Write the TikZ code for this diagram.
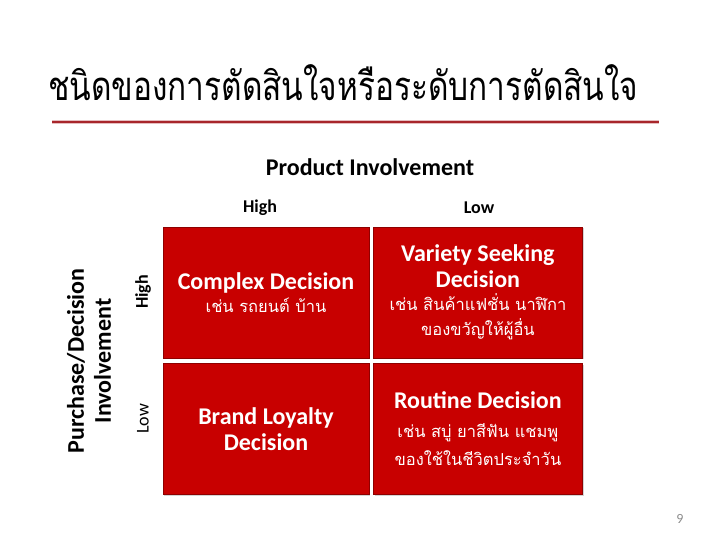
\documentclass[tikz,border=0pt]{standalone}
\usepackage{fontspec}
\setmainfont{Carlito}
\newfontfamily\thaifont[Script=Thai]{Loma}
\usepackage{tikz}
\usetikzlibrary{positioning, shadows}
\definecolor{quadred}{HTML}{C80000}
\definecolor{quadedge}{HTML}{8E0000}
\definecolor{rulered}{HTML}{A8262B}
\definecolor{numgray}{HTML}{8C8C8C}
\tikzset{
    quad/.style={draw=quadedge, fill=quadred, text=white, align=center, inner sep=2pt,
                 font=\fontsize{17}{26}\selectfont,
                 minimum height=131pt, drop shadow={opacity=0.35, shadow xshift=1.2pt, shadow yshift=-1.2pt}},
    axislbl/.style={font=\fontsize{24}{28}\selectfont\bfseries, align=center},
    lvl/.style={font=\fontsize{18}{20}\selectfont\bfseries},
    lvlthin/.style={font=\fontsize{18}{20}\selectfont}
}
\newcommand{\enline}[1]{{\bfseries\fontsize{24}{26}\selectfont #1}}
\newcommand{\thline}[1]{{\thaifont\fontsize{16.5}{26}\selectfont #1}}

\begin{document}
\begin{tikzpicture}[x=1pt, y=-1pt]
    \useasboundingbox (0,0) rectangle (728,546);
    % heading
    \node[anchor=base west, inner sep=0pt, xscale=0.79, transform shape,
          font=\thaifont\fontsize{40}{44}\selectfont] (title) at (48,100)
        {ชนิดของการตัดสินใจหรือระดับการตัดสินใจ};
    \draw[line width=4pt, rulered!30] (52,122) -- (659,122);
    \draw[line width=1.6pt, rulered] (52,122) -- (659,122);
    % axes
    \node[axislbl] (prod) at (370,167) {Product Involvement};
    \node[lvl] (phigh) at (260,208) {High};
    \node[lvl] (plow) at (479,208) {Low};
    \node[axislbl, rotate=90] (purch) at (89,361) {Purchase/Decision\\[-1pt]Involvement};
    \node[lvl, rotate=90] (dhigh) at (143,292) {High};
    \node[lvlthin, rotate=90] (dlow) at (143,419) {Low};
    % quadrants
    \node[quad, minimum width=206pt] (complex) at (266,292.5)
        {\enline{Complex Decision}\\[-3pt] \thline{เช่น รถยนต์ บ้าน}};
    \node[quad, minimum width=209pt, right=4pt of complex] (variety)
        {\enline{Variety Seeking}\\ \enline{Decision}\\[-3pt] \thline{เช่น สินค้าแฟชั่น นาฬิกา}\\[-1pt] \thline{ของขวัญให้ผู้อื่น}};
    \node[quad, minimum width=206pt, below=5pt of complex] (brand)
        {\enline{Brand Loyalty}\\ \enline{Decision}};
    \node[quad, minimum width=209pt, right=4pt of brand] (routine)
        {\enline{Routine Decision}\\[3pt] \thline{เช่น สบู่ ยาสีฟัน แชมพู}\\[2pt] \thline{ของใช้ในชีวิตประจำวัน}};
    % page number
    \node[numgray, font=\fontsize{14}{16}\selectfont] (pagenum) at (680,519) {9};
\end{tikzpicture}
\end{document}
